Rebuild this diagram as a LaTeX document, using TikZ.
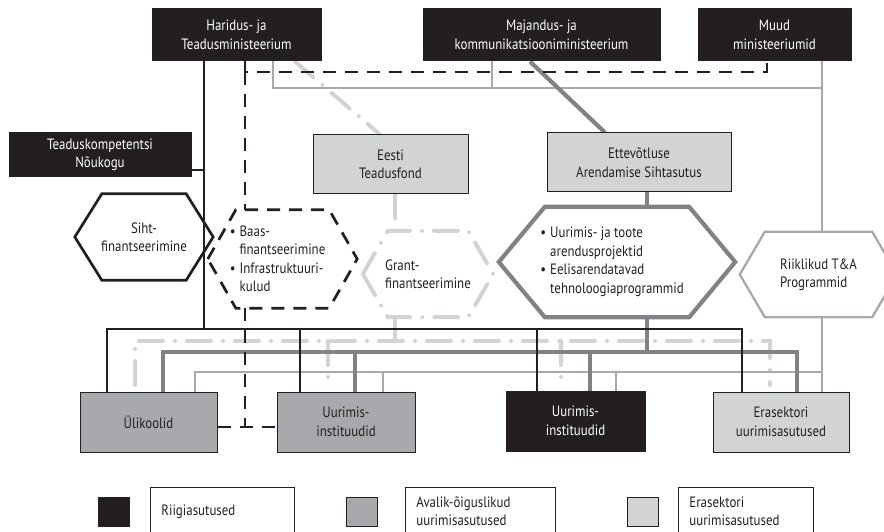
\documentclass[tikz,border=0pt]{standalone}
\usepackage{fontspec}
\setmainfont{PT Sans}[FakeStretch=0.86]
\usetikzlibrary{calc}
\definecolor{ink}{HTML}{231F20}
\definecolor{mgrey}{HTML}{808285}
\definecolor{lgrey}{HTML}{A7A9AC}
\definecolor{vlgrey}{HTML}{D1D3D4}
\pgfdeclarelayer{bg}
\pgfsetlayers{bg,main}
\newcommand\hexdraw[3]{\draw[#3] (#1.west) -- ([xshift=#2pt]#1.north west) -- ([xshift=-#2pt]#1.north east) -- (#1.east) -- ([xshift=-#2pt]#1.south east) -- ([xshift=#2pt]#1.south west) -- cycle;}
\newcommand\bul{\llap{\textbullet\hspace{4pt}}}
\begin{document}
\begin{tikzpicture}[x=1pt,y=-1pt,
  txt/.style={font=\fontsize{15}{18.5}\selectfont, text=ink, align=center, inner sep=0pt},
  darkbox/.style={txt, draw=ink, fill=ink, text=white, line width=1pt},
  midbox/.style={txt, draw=ink, fill=lgrey, line width=1pt},
  lightbox/.style={txt, draw=ink, fill=vlgrey, line width=1pt},
  blk/.style={draw=ink, line width=2.7pt},
  blkdash/.style={blk, dash pattern=on 13pt off 9pt},
  lgl/.style={draw=lgrey, line width=2.3pt},
  mgl/.style={draw=mgrey, line width=4.2pt},
  vlgl/.style={draw=vlgrey, line width=4pt, line cap=round, dash pattern=on 24pt off 12pt on 0pt off 12pt},
  legsq/.style={draw=ink, line width=0.8pt, minimum width=31, minimum height=29, inner sep=0pt},
  legbox/.style={txt, draw=ink, line width=0.8pt, align=left, inner xsep=11pt, minimum height=48, anchor=north west},
]
\useasboundingbox (0,0) rectangle (884,532);
\clip (0,0) rectangle (884,532);

% ---- top boxes
\node[darkbox, minimum width=169, minimum height=52] (hari) at (236.5,35) {Haridus- ja\\Teadusministeerium};
\node[darkbox, minimum width=237, minimum height=52] (maj) at (541.5,35) {Majandus- ja\\kommunikatsiooniministeerium};
\node[darkbox, minimum width=153, minimum height=52] (muud) at (774.5,35) {Muud\\ministeeriumid};
\node[darkbox, minimum width=182, minimum height=44] (tkn) at (100,155) {Teaduskompetentsi\\Nõukogu};
\node[lightbox, minimum width=155, minimum height=59] (etf) at (390.5,164.5) {Eesti\\Teadusfond};
\node[lightbox, minimum width=184, minimum height=59] (eas) at (639,162.5) {Ettevõtluse\\Arendamise Sihtasutus};

% ---- hexagons
\node[txt, minimum width=138, minimum height=86] (siht) at (144,237) {Siht-\\finantseerimine};
\hexdraw{siht}{27}{blk}
\node[txt, align=left, minimum width=149, minimum height=98] (baas) at (282.5,259) {\bul Baas-\\finantseerimine\\\bul Infrastruktuuri-\\kulud};
\hexdraw{baas}{28}{blkdash}
\node[txt, align=left, minimum width=130, minimum height=86] (grant) at (428,274) {Grant-\\finantseerimine};
\hexdraw{grant}{25}{vlgl}
\node[txt, align=left, minimum width=236, minimum height=110] (easx) at (617,262) {\bul Uurimis- ja toote\\arendusprojektid\\\bul Eelisarendatavad\\tehnoloogiaprogrammid};
\hexdraw{easx}{46}{draw=mgrey, line width=4.2pt}
\node[txt, align=left, minimum width=157, minimum height=85] (riik) at (818.5,274.5) {Riiklikud T\&A\\Programmid};
\hexdraw{riik}{25}{lgl}

% ---- bottom boxes
\node[midbox, minimum width=137, minimum height=60] (uli) at (148.5,422) {Ülikoolid};
\node[midbox, minimum width=138, minimum height=60] (uig) at (346,422) {Uurimis-\\instituudid};
\node[darkbox, minimum width=139, minimum height=60] (uib) at (575.5,421) {Uurimis-\\instituudid};
\node[lightbox, minimum width=136, minimum height=60] (era) at (781,422) {Erasektori\\uurimisasutused};

% ---- legend
\node[legsq, fill=ink] (sq1) at (113.5,511.5) {};
\node[legbox, text width=122] (lg1) at (150,487) {Riigiasutused};
\node[legsq, fill=lgrey] (sq2) at (362,511.5) {};
\node[legbox, text width=128] (lg2) at (405,487) {Avalik-õiguslikud\\uurimisasutused};
\node[legsq, fill=vlgrey] (sq3) at (643,511.5) {};
\node[legbox, text width=113] (lg3) at (678,487) {Erasektori\\uurimisasutused};

% ---- coordinates
\coordinate (kb) at (204,329);
\coordinate (b1) at (107,329);
\coordinate (b2) at (300,329);
\coordinate (b3) at (537,329);
\coordinate (b4) at (742,329);
\coordinate (d1) at (245,72);
\coordinate (d2) at (767,72);
\coordinate (d3) at (245,427);
\coordinate (g1) at (273,88);
\coordinate (g2) at (492,88);
\coordinate (g3) at (822,88);
\coordinate (g4) at (195,372);
\coordinate (g5) at (383,372);
\coordinate (g6) at (616,372);
\coordinate (g8) at (822,372);
\coordinate (m0) at (530,0);
\coordinate (m1) at (605,0);
\coordinate (m2) at (647,352);
\coordinate (mb1) at (163,352);
\coordinate (mb2) at (355,352);
\coordinate (mb3) at (590,352);
\coordinate (mb4) at (797,352);
\coordinate (v0) at (295,0);
\coordinate (v1) at (380,0);
\coordinate (v2) at (395,341);
\coordinate (va) at (135,385);
\coordinate (vb) at (328,385);
\coordinate (vc) at (561,385);
\coordinate (vd) at (770,385);
\coordinate (vtop) at (770,341);

\begin{pgfonlayer}{bg}
% very light grey dash-dot
\draw[vlgl] (hari.south -| v0) -- (etf.north -| v1);
\draw[vlgl] (etf.south -| v2) -- (grant.north -| v2);
\draw[vlgl] (grant.south -| v2) -- (v2);
\draw[vlgl] (va) |- (vtop) -- (vd);
\draw[vlgl] (vb |- v2) -- (vb);
\draw[vlgl] (vc |- v2) -- (vc);
% light grey
\draw[lgl] (hari.south -| g1) -- (g1) -- (g3);
\draw[lgl] (maj.south -| g2) -- (g2);
\draw[lgl] (muud.south -| g3) -- (riik.north -| g3);
\draw[lgl] (riik.south -| g8) -- (era.north -| g8);
\draw[lgl] (uli.north -| g4) |- (g8);
\draw[lgl] (uig.north -| g5) -- (g5);
\draw[lgl] (uib.north -| g6) -- (g6);
% medium grey
\draw[mgl] (maj.south -| m0) -- (eas.north -| m1);
\draw[mgl] (eas.south -| m2) -- (easx.north -| m2);
\draw[mgl] (easx.south -| m2) -- (m2);
\draw[mgl] (uli.north -| mb1) |- (mb4) -- (era.north -| mb4);
\draw[mgl] (uig.north -| mb2) -- (mb2);
\draw[mgl] (uib.north -| mb3) -- (mb3);
% black
\draw[blk] (hari.south -| kb) -- (kb);
\draw[blk] ([yshift=-15pt]tkn.east) -- ([yshift=-15pt]tkn.east -| kb);
\draw[blk] (uli.north -| b1) |- (b4) -- (era.north -| b4);
\draw[blk] (uig.north -| b2) -- (b2);
\draw[blk] (uib.north -| b3) -- (b3);
% black dashed
\draw[blkdash] (hari.south -| d1) -- (d1) -- (d2) -- (muud.south -| d2);
\draw[blkdash] (d1) -- (baas.north -| d1);
\draw[blkdash] (baas.south -| d1) -- (d3);
\draw[blkdash] (uli.east |- d3) -- (uig.west |- d3);
\end{pgfonlayer}
\end{tikzpicture}
\end{document}
